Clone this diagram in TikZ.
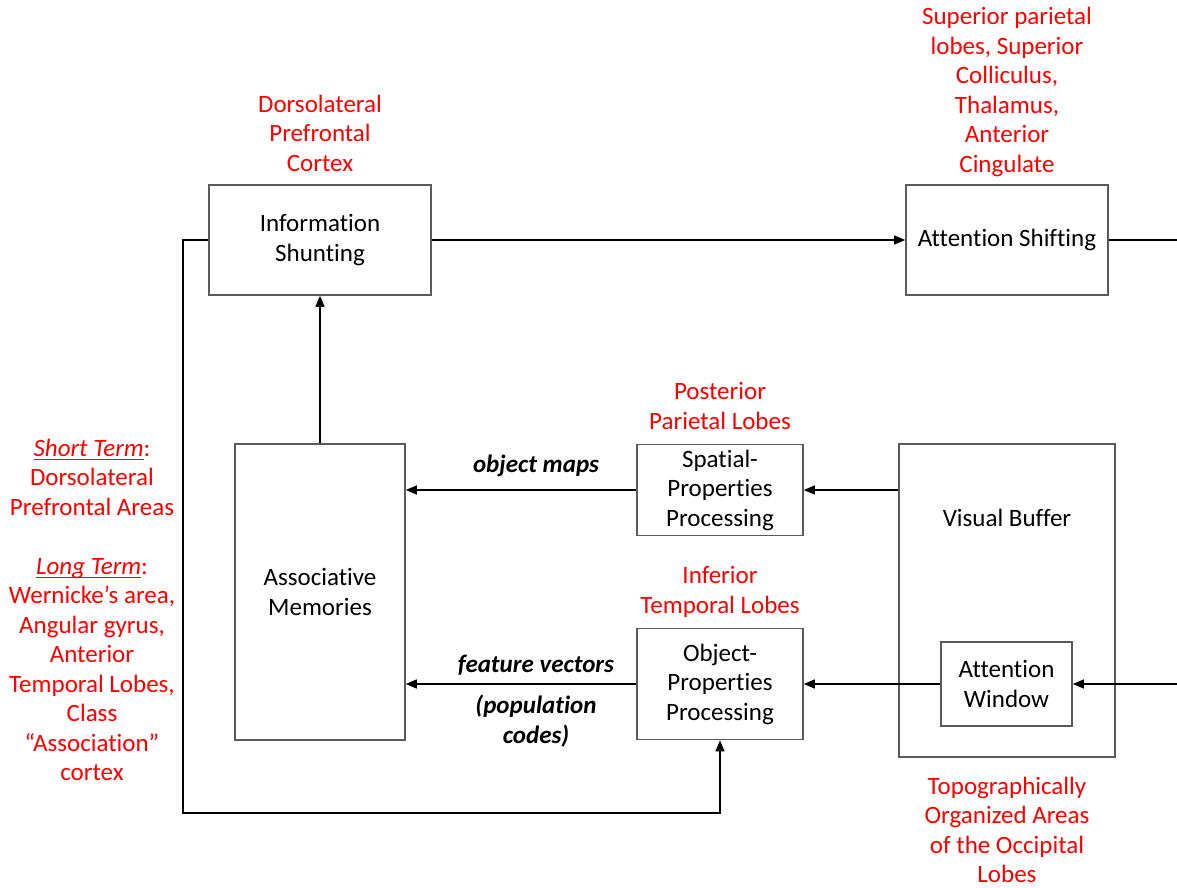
\documentclass[tikz,border=0pt]{standalone}
\usepackage{fontspec}
\setmainfont{Carlito}[Ligatures=NoCommon]
\usetikzlibrary{arrows.meta}
\definecolor{brainred}{RGB}{255,0,0}
\definecolor{boxgray}{RGB}{90,90,90}
% red underline under a word
\newcommand{\lineunder}[1]{\leavevmode\setbox0\hbox{#1}\rlap{\textcolor{brainred}{\raisebox{-4pt}{\rule{\wd0}{1.4pt}}}}\box0}
\begin{document}
\begin{tikzpicture}[x=1pt,y=-1pt,
  every node/.style={font=\fontsize{25}{29.5}\selectfont, align=center, inner sep=0pt},
  box/.style={draw=boxgray, line width=1.6pt, fill=white},
  region/.style={text=brainred},
  flow/.style={line width=1.3pt, draw=black},
  arr/.style={flow, -{Triangle[length=11pt,width=9pt]}},
  edgetxt/.style={font=\fontsize{25}{29.5}\selectfont\bfseries\itshape}
]
\useasboundingbox (0,0) rectangle (1177,888);

% processing boxes
\node[box, minimum width=222pt, minimum height=110pt] (shunt) at (320,240) {Information\\Shunting};
\node[box, minimum width=202pt, minimum height=110pt] (shift) at (1007,240) {Attention Shifting};
\node[box, minimum width=170pt, minimum height=296pt] (assoc) at (320,592) {Associative\\Memories};
\node[box, minimum width=166pt, minimum height=91pt] (spp) at (720,490) {Spatial-\\Properties\\Processing};
\node[box, minimum width=166pt, minimum height=111pt] (opp) at (720,684) {Object-\\Properties\\Processing};
\node[box, minimum width=216pt, minimum height=313pt] (vb) at (1007,600.5) {};
\node (vbtext) at (1007,518) {Visual Buffer};
\node[box, minimum width=131pt, minimum height=84pt] (win) at (1006.5,684) {Attention\\Window};

% brain regions
\node[region] (dlpfc) at (320,133) {Dorsolateral\\Prefrontal\\Cortex};
\node[region] (spl) at (1007,92) {Superior parietal\\lobes, Superior\\Colliculus,\\Thalamus,\\Anterior\\Cingulate};
\node[region] (ppl) at (720,406) {Posterior\\Parietal Lobes};
\node[region] (itl) at (720,592) {Inferior\\Temporal Lobes};
\node[region] (occ) at (1007,830) {Topographically\\Organized Areas\\of the Occipital\\Lobes};
\node[region] (mem) at (92,610) {\lineunder{\textit{Short Term}}:\\Dorsolateral\\Prefrontal Areas\\[29.5pt]\lineunder{\textit{Long Term}}:\\Wernicke’s area,\\Angular gyrus,\\Anterior\\Temporal Lobes,\\Class\\“Association”\\cortex};

% connector ends and bends
\coordinate (eastA) at (1177,240);
\coordinate (eastW) at (1177,684);
\coordinate (loop) at (183,813);

% connectors
\draw[arr] (shunt.east) -- (shift.west);
\draw[flow] (shift.east) -- (eastA);
\draw[arr] (eastW) -- (win.east);
\draw[arr] (assoc.north) -- (shunt.south);
\draw[arr] (vb.west |- spp.east) -- (spp.east);
\draw[arr] (win.west) -- (opp.east);
\draw[arr] (spp.west) -- (assoc.east |- spp.west);
\draw[arr] (opp.west) -- (assoc.east |- opp.west);
\draw[arr] (shunt.west) -| (loop) -| (opp.south);

% connector labels
\node[edgetxt] (lblmaps) at (536,466) {object maps};
\node[edgetxt] (lblfeat) at (536,665) {feature vectors};
\node[edgetxt] (lblpop) at (536,721) {(population\\codes)};
\end{tikzpicture}
\end{document}
